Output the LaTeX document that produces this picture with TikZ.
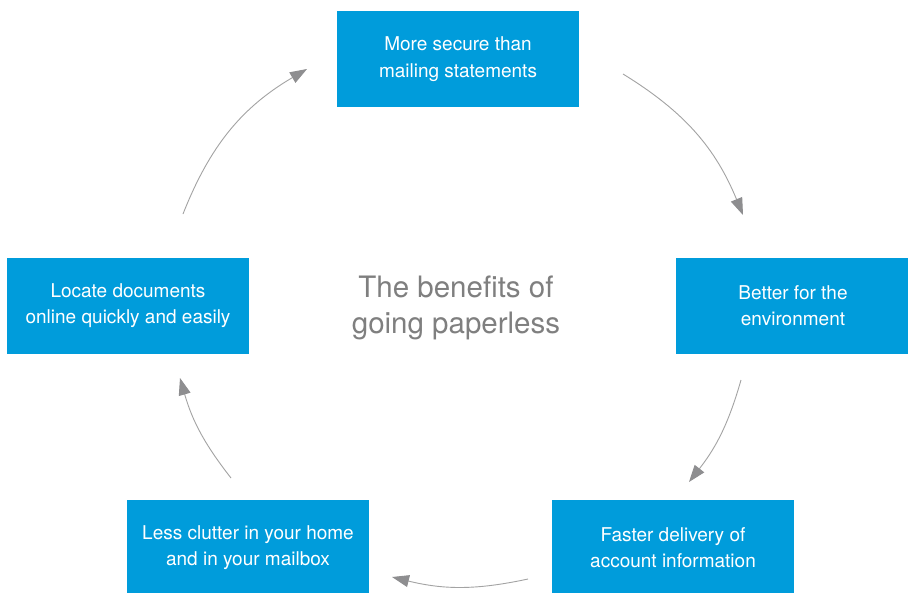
\documentclass[tikz,border=0pt]{standalone}
\usepackage{fontspec}
\setmainfont{TeX Gyre Heros}
\usetikzlibrary{arrows.meta}
\definecolor{boxblue}{HTML}{009CDB}
\definecolor{arrgray}{HTML}{A3A3A3}
\definecolor{tipgray}{HTML}{8E8E90}
\definecolor{titlegray}{HTML}{7F7F7F}
\begin{document}
\begin{tikzpicture}[x=1pt,y=-1pt,
  benefit/.style={fill=boxblue, draw=none, text=white, align=center,
    minimum width=242pt, minimum height=96pt, inner sep=0pt,
    font=\fontsize{19}{26.5}\selectfont},
  cyc/.style={draw=arrgray, line width=0.9pt,
    -{Triangle[length=17pt,width=12pt,fill=tipgray,color=tipgray]}},
]
\useasboundingbox (0,0) rectangle (908,592);
\fill[white] (0,0) rectangle (908,592);

\node[benefit] (secure) at (458,59) {More secure than\\mailing statements};
\node[benefit, minimum width=234pt] (env) at (793,305.5) {Better for the\\environment};
\node[benefit] (faster) at (673,547.5) {Faster delivery of\\account information};
\node[benefit] (clutter) at (248,547.5) {Less clutter in your home\\and in your mailbox};
\node[benefit] (locate) at (128,305.5) {Locate documents\\online quickly and easily};

\node[text=titlegray, align=center, font=\fontsize{29.5}{36}\selectfont] (title) at (456,308) {The benefits of\\going paperless};

\coordinate (a1s) at (623,74);  \coordinate (a1e) at (743,215);
\coordinate (a2s) at (741,380); \coordinate (a2e) at (689,482);
\coordinate (a3s) at (528,579); \coordinate (a3e) at (392,577);
\coordinate (a4s) at (231,478); \coordinate (a4e) at (180,378);
\coordinate (a5s) at (183,214); \coordinate (a5e) at (307,69);

\draw[cyc] (a1s) to[bend left=18] (a1e);
\draw[cyc] (a2s) to[bend left=11] (a2e);
\draw[cyc] (a3s) to[bend left=13] (a3e);
\draw[cyc] (a4s) to[bend left=11] (a4e);
\draw[cyc] (a5s) to[bend left=19] (a5e);
\end{tikzpicture}
\end{document}
